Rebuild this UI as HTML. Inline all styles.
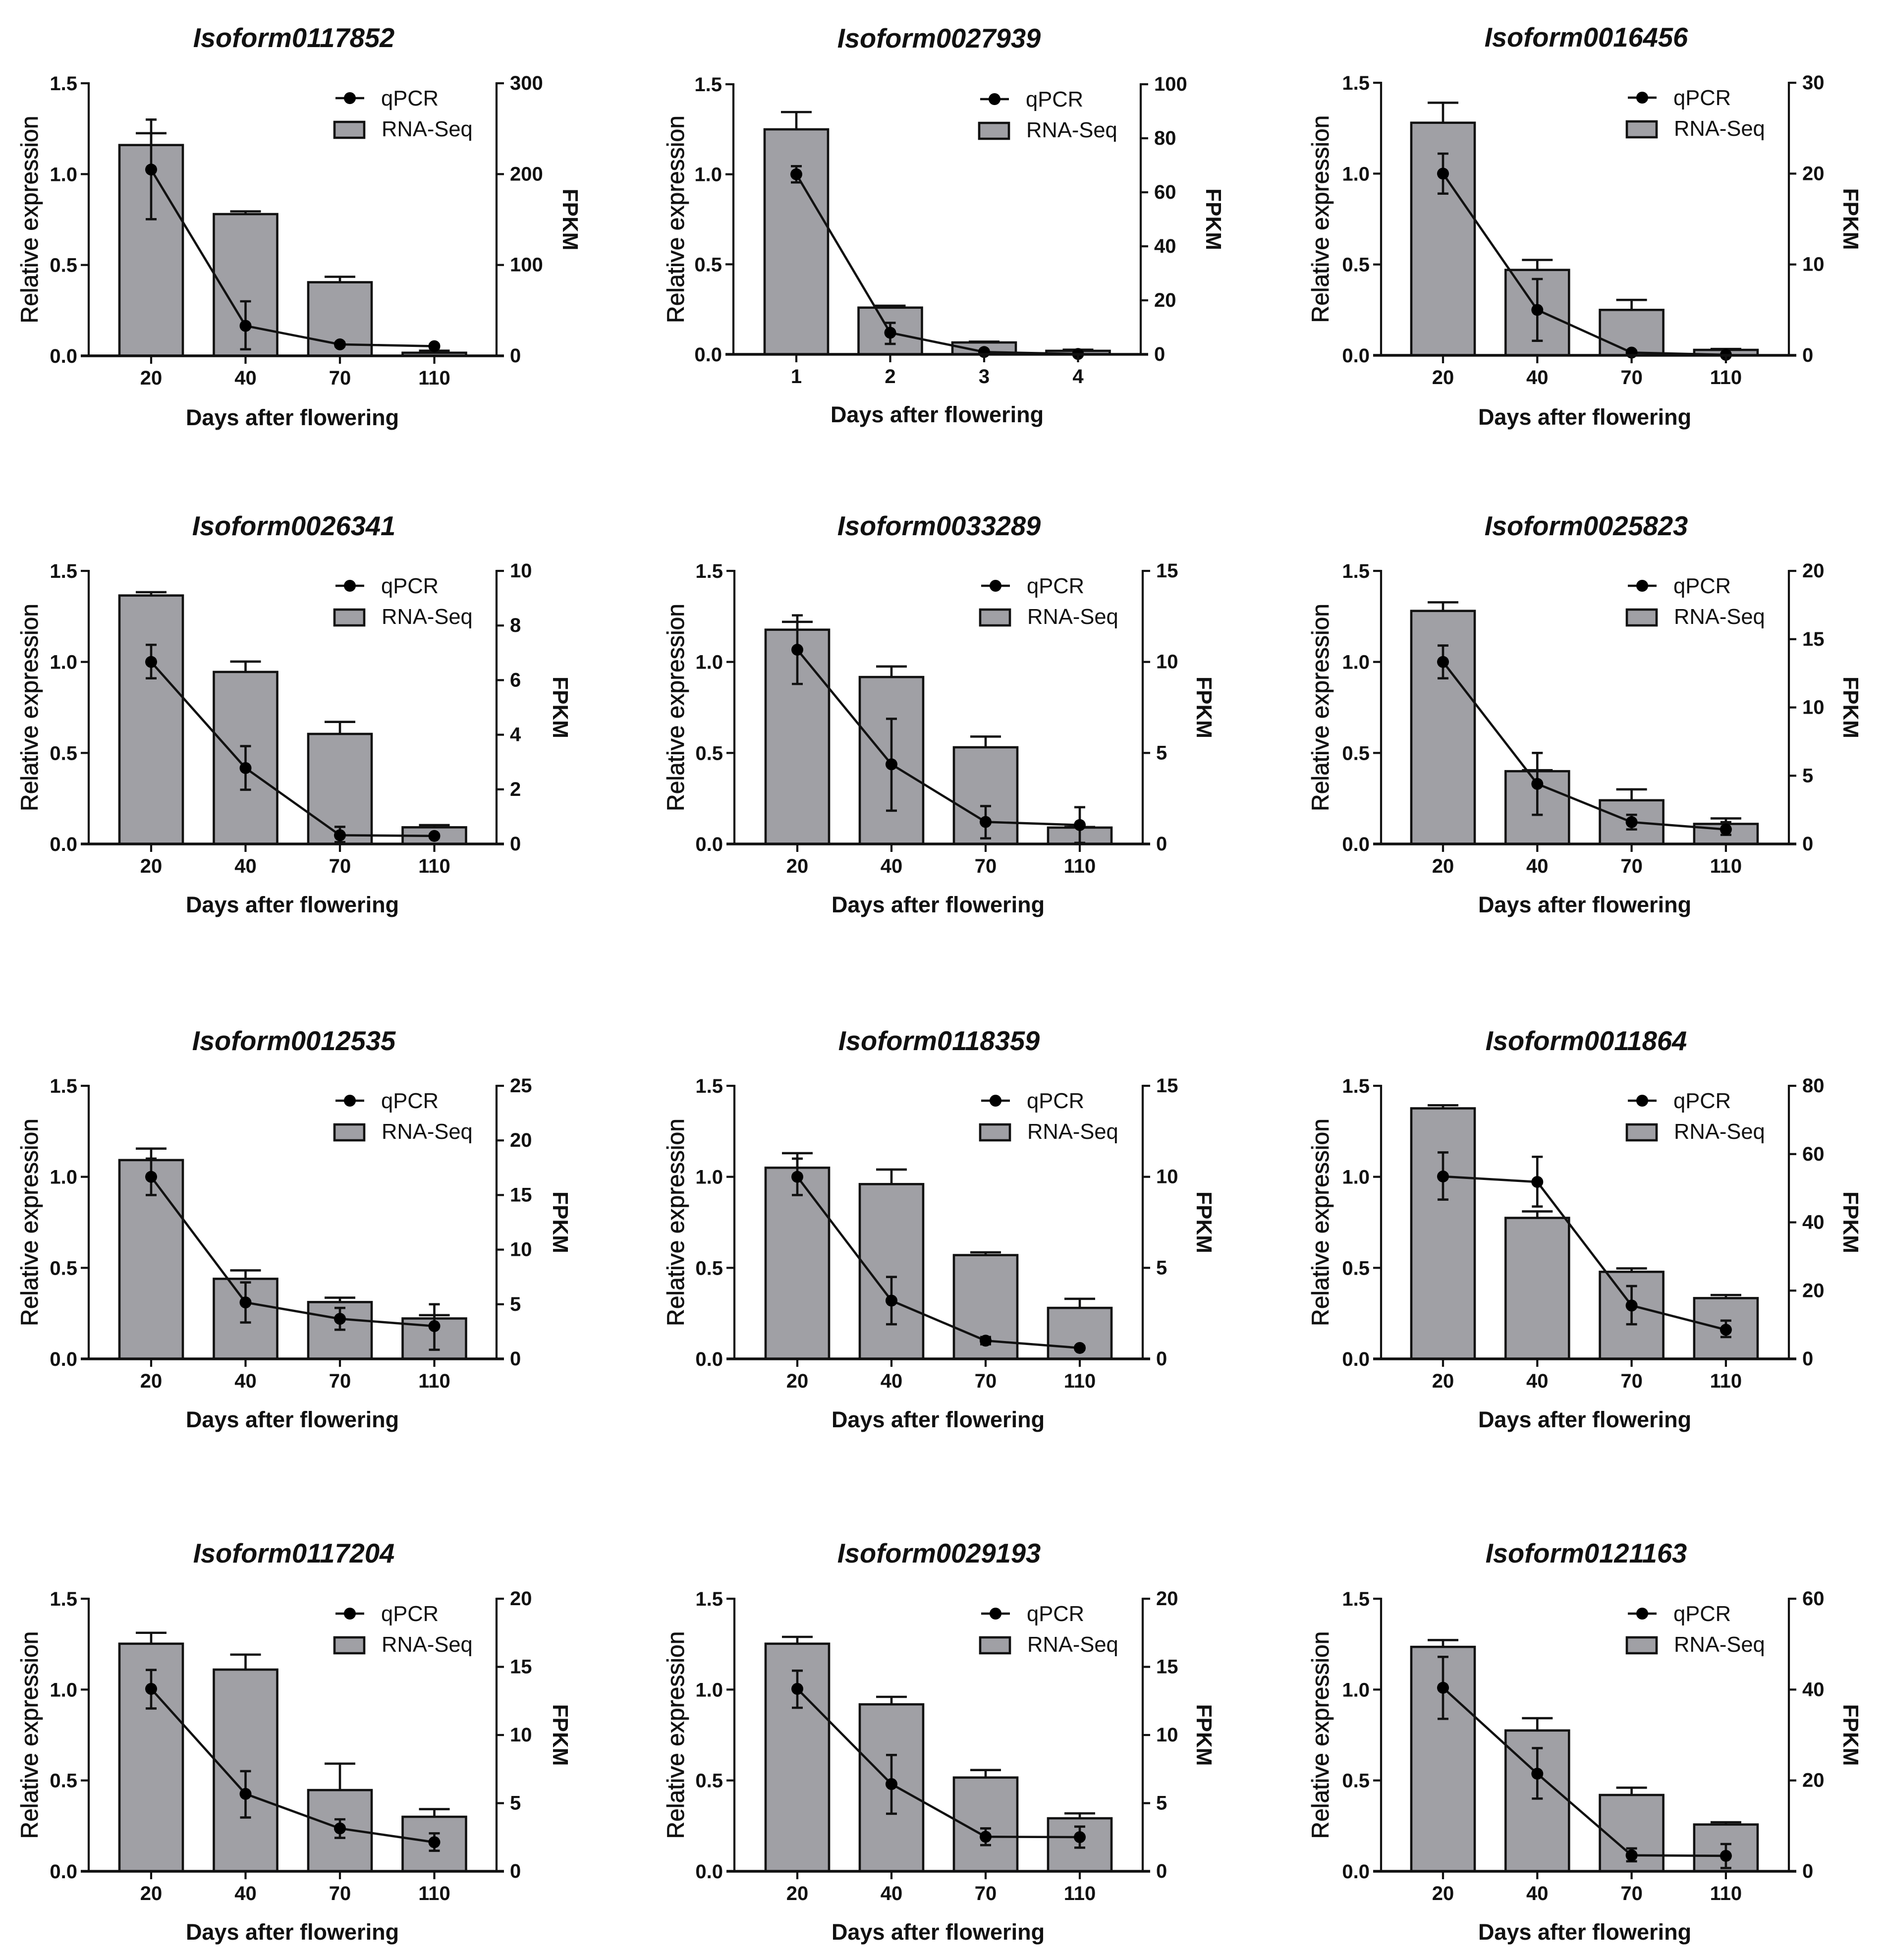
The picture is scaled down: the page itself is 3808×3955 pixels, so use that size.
<!DOCTYPE html>
<html lang="en">
<head>
<meta charset="utf-8">
<title>qPCR and RNA-Seq expression of twelve isoforms</title>
<style>
html,body{margin:0;padding:0;background:#fff;}
svg{display:block;font-family:"Liberation Sans",Arial,sans-serif;}
</style>
</head>
<body>
<svg id="figure" xmlns="http://www.w3.org/2000/svg" width="3808" height="3955" viewBox="0 0 3808 3955"></svg>
<script>
// ---------- chart data (one entry per panel) ----------
const panelTitles = ["Isoform0117852","Isoform0027939","Isoform0016456","Isoform0026341","Isoform0033289","Isoform0025823","Isoform0012535","Isoform0118359","Isoform0011864","Isoform0117204","Isoform0029193","Isoform0121163"];
const dayCategories = ["20","40","70","110"];
const indexCategories = ["1","2","3","4"];
const leftTicks = [0,0.5,1.0,1.5];
const leftMax = 1.5;
const rightTicks = [
  [0,100,200,300],[0,20,40,60,80,100],[0,10,20,30],
  [0,2,4,6,8,10],[0,5,10,15],[0,5,10,15,20],
  [0,5,10,15,20,25],[0,5,10,15],[0,20,40,60,80],
  [0,5,10,15,20],[0,5,10,15,20],[0,20,40,60]
];
// RNA-Seq FPKM bar heights and upper error limits (right axis)
const rnaSeqFpkm = [
  [232,156,81,3.4],[83.3,17.3,4.4,1.3],[25.6,9.4,5,0.6],
  [9.1,6.3,4.03,0.61],[11.77,9.17,5.31,0.9],[17.07,5.33,3.2,1.47],
  [18.2,7.33,5.2,3.7],[10.5,9.6,5.7,2.8],[73.4,41.3,25.5,17.8],
  [16.7,14.8,5.96,4.0],[16.7,12.25,6.88,3.89],[49.4,31,16.8,10.3]
];
const rnaSeqUpper = [
  [245,159,87,5.6],[89.7,18,4.7,1.7],[27.8,10.5,6.1,0.7],
  [9.22,6.68,4.47,0.69],[12.2,9.75,5.9,0.93],[17.7,5.4,4,1.87],
  [19.25,8.1,5.6,4],[11.3,10.4,5.85,3.3],[74.3,43.2,26.5,18.7],
  [17.5,15.9,7.9,4.56],[17.2,12.8,7.43,4.25],[50.9,33.7,18.4,10.8]
];
// qPCR relative expression and error limits (left axis)
const qpcrMean = [
  [1.025,0.165,0.063,0.053],[1.0,0.12,0.013,0.002],[1.0,0.25,0.015,0.003],
  [1.0,0.417,0.048,0.044],[1.067,0.4375,0.121,0.104],[1.0,0.33,0.12,0.08],
  [1.0,0.31,0.22,0.18],[1.0,0.32,0.10,0.06],[1.002,0.972,0.293,0.16],
  [1.004,0.426,0.236,0.16],[1.004,0.48,0.19,0.188],[1.01,0.537,0.088,0.085]
];
const qpcrHigh = [
  [1.30,0.30,0.073,0.063],[1.045,0.175,0.023,0.006],[1.11,0.42,0.025,0.006],
  [1.094,0.5375,0.094,0.054],[1.256,0.6875,0.208,0.202],[1.09,0.50,0.16,0.12],
  [1.10,0.42,0.28,0.30],[1.10,0.45,0.12,0.07],[1.134,1.11,0.40,0.21],
  [1.108,0.551,0.286,0.209],[1.104,0.64,0.236,0.246],[1.18,0.678,0.126,0.15]
];
const qpcrLow = [
  [0.752,0.036,0.053,0.043],[0.955,0.058,0.003,0],[0.89,0.08,0.005,0],
  [0.91,0.298,0.01,0.034],[0.879,0.183,0.031,0.006],[0.91,0.16,0.08,0.05],
  [0.90,0.20,0.16,0.05],[0.90,0.19,0.08,0.05],[0.875,0.837,0.19,0.12],
  [0.896,0.296,0.184,0.113],[0.90,0.317,0.144,0.13],[0.839,0.40,0.055,0.018]
];

// ---------- helpers ----------
const SVGNS = "http://www.w3.org/2000/svg";
const INK = "#111";
const BARFILL = "#a0a0a5";
const AXISW = 4.2, MARKW = 4.6;
const root = document.getElementById("figure");
function make(parent, tag, attrs, text){
  const n = document.createElementNS(SVGNS, tag);
  for (const k in attrs) n.setAttribute(k, attrs[k]);
  if (text !== undefined) n.textContent = text;
  parent.appendChild(n);
  return n;
}
function stroke(w){ return {stroke:INK,"stroke-width":w,fill:"none"}; }
function seg(parent,x1,y1,x2,y2,w){
  return make(parent,"line",Object.assign({x1:x1,y1:y1,x2:x2,y2:y2},stroke(w)));
}
function panelBox(p){
  const r = Math.floor(p/3), c = p%3;
  const box = {
    left:[179,1482,2787][c], right:[1002,2306,3610][c],
    top:[168,1152,2191,3226][r], bottom:[718,1703,2742,3776][r],
    first:[305,1609,2912][c], step:[190.5,190,190.3][c],
    titleX:[593,1895,3201][c], daysX:[590,1893,3198][c],
    titleUp:623, daysDown:r===0?140:138,
    relOffset:[103,102,106][c], fpkmOffset:[114,109,110][c]
  };
  if (p===0){ box.fpkmOffset = 134; }
  if (p===1){ box.left = 1480; box.right = 2302; box.top = 170; box.bottom = 715; box.first = 1607; box.step = 189.5; box.titleUp = 619; box.daysDown = 137; box.fpkmOffset = 132; box.daysX = 1891; box.relOffset = 100; }
  if (p===2){ box.top = 167; box.bottom = 717; }
  return box;
}

// ---------- draw panels ----------
panelTitles.forEach(function(title,p){
  const box = panelBox(p);
  const h = box.bottom - box.top;
  const rMax = rightTicks[p][rightTicks[p].length-1];
  const xCat = function(i){ return box.first + i*box.step; };
  const yLeft = function(v){ return box.bottom - v/leftMax*h; };
  const yRight = function(v){ return box.bottom - v/rMax*h; };
  const cats = p===1 ? indexCategories : dayCategories;

  const g = make(root,"g",{});
  
  

  const t = make(g,"text",{x:box.titleX,y:box.bottom-box.titleUp,"text-anchor":"middle","font-size":54.3,"font-weight":"bold","font-style":"italic",fill:INK},title);
  
  

  // bars with upper error bars
  rnaSeqFpkm[p].forEach(function(v,i){
    const bar = make(g,"rect",{x:xCat(i)-64,y:yRight(v),width:128,height:box.bottom-yRight(v),fill:BARFILL,stroke:INK,"stroke-width":MARKW});
    
    
    const up = yRight(rnaSeqUpper[p][i]);
    const stem = seg(g,xCat(i),yRight(v),xCat(i),up,MARKW);
    
    
    const cap = seg(g,xCat(i)-31,up,xCat(i)+31,up,MARKW);
    
    
  });

  // qPCR line
  const pts = qpcrMean[p].map(function(v,i){ return xCat(i)+","+yLeft(v); }).join(" ");
  const line = make(g,"polyline",Object.assign({points:pts,"stroke-linejoin":"round"},stroke(MARKW)));
  
  

  qpcrMean[p].forEach(function(v,i){
    const hi = yLeft(qpcrHigh[p][i]), lo = yLeft(qpcrLow[p][i]);
    const stem = seg(g,xCat(i),hi,xCat(i),lo,MARKW);
    
    
    const capHi = seg(g,xCat(i)-11,hi,xCat(i)+11,hi,MARKW);
    
    
    const capLo = seg(g,xCat(i)-11,lo,xCat(i)+11,lo,MARKW);
    
    
    const dot = make(g,"circle",{cx:xCat(i),cy:yLeft(v),r:12,fill:"#000"});
    
    
  });

  // axes
  const axisL = seg(g,box.left,box.top-2,box.left,box.bottom,AXISW);
  
  
  const axisR = seg(g,box.right,box.top-2,box.right,box.bottom,AXISW);
  
  
  const axisX = seg(g,box.left-16,box.bottom,box.right+15,box.bottom,5.5);
  
  

  leftTicks.forEach(function(v){
    const y = yLeft(v);
    const tk = seg(g,box.left-16,y,box.left,y,AXISW);
    
    
    const lb = make(g,"text",{x:box.left-23,y:y+14,"text-anchor":"end","font-size":40,"font-weight":"bold",fill:INK},v.toFixed(1));
    
    
  });
  rightTicks[p].forEach(function(v){
    const y = yRight(v);
    const tk = seg(g,box.right,y,box.right+15,y,AXISW);
    
    
    const lb = make(g,"text",{x:box.right+27,y:y+13,"font-size":40,"font-weight":"bold",fill:INK},String(v));
    
    
  });
  cats.forEach(function(c,i){
    const tk = seg(g,xCat(i),box.bottom,xCat(i),box.bottom+16,AXISW);
    
    
    const lb = make(g,"text",{x:xCat(i),y:box.bottom+58,"text-anchor":"middle","font-size":40,"font-weight":"bold",fill:INK},c);
    
    
  });

  // axis titles
  const xt = make(g,"text",{x:box.daysX,y:box.bottom+box.daysDown,"text-anchor":"middle","font-size":45,"font-weight":"bold",fill:INK},"Days after flowering");
  
  
  const midY = (box.top+box.bottom)/2;
  const yt = make(g,"text",{transform:"translate("+(box.left-box.relOffset)+","+midY+") rotate(-90)","text-anchor":"middle","font-size":48,fill:INK,stroke:INK,"stroke-width":0.7},"Relative expression");
  
  
  const ry = make(g,"text",{transform:"translate("+(box.right+box.fpkmOffset)+","+midY+") rotate(90)","text-anchor":"middle","font-size":44,"font-weight":"bold",fill:INK},"FPKM");
  
  

  // legend
  const lx = box.left, ty = box.top;
  const lgLine = seg(g,lx+498,ty+30,lx+556,ty+30,MARKW);
  
  
  const lgDot = make(g,"circle",{cx:lx+527,cy:ty+30,r:12,fill:"#000"});
  
  
  const lgT1 = make(g,"text",{x:lx+590,y:ty+45,"font-size":43.5,fill:INK},"qPCR");
  
  
  const lgBox = make(g,"rect",{x:lx+496,y:ty+78,width:60,height:32,fill:BARFILL,stroke:INK,"stroke-width":MARKW});
  
  
  const lgT2 = make(g,"text",{x:lx+591,y:ty+107,"font-size":43.5,fill:INK},"RNA-Seq");
  
  
});
</script>
</body>
</html>
